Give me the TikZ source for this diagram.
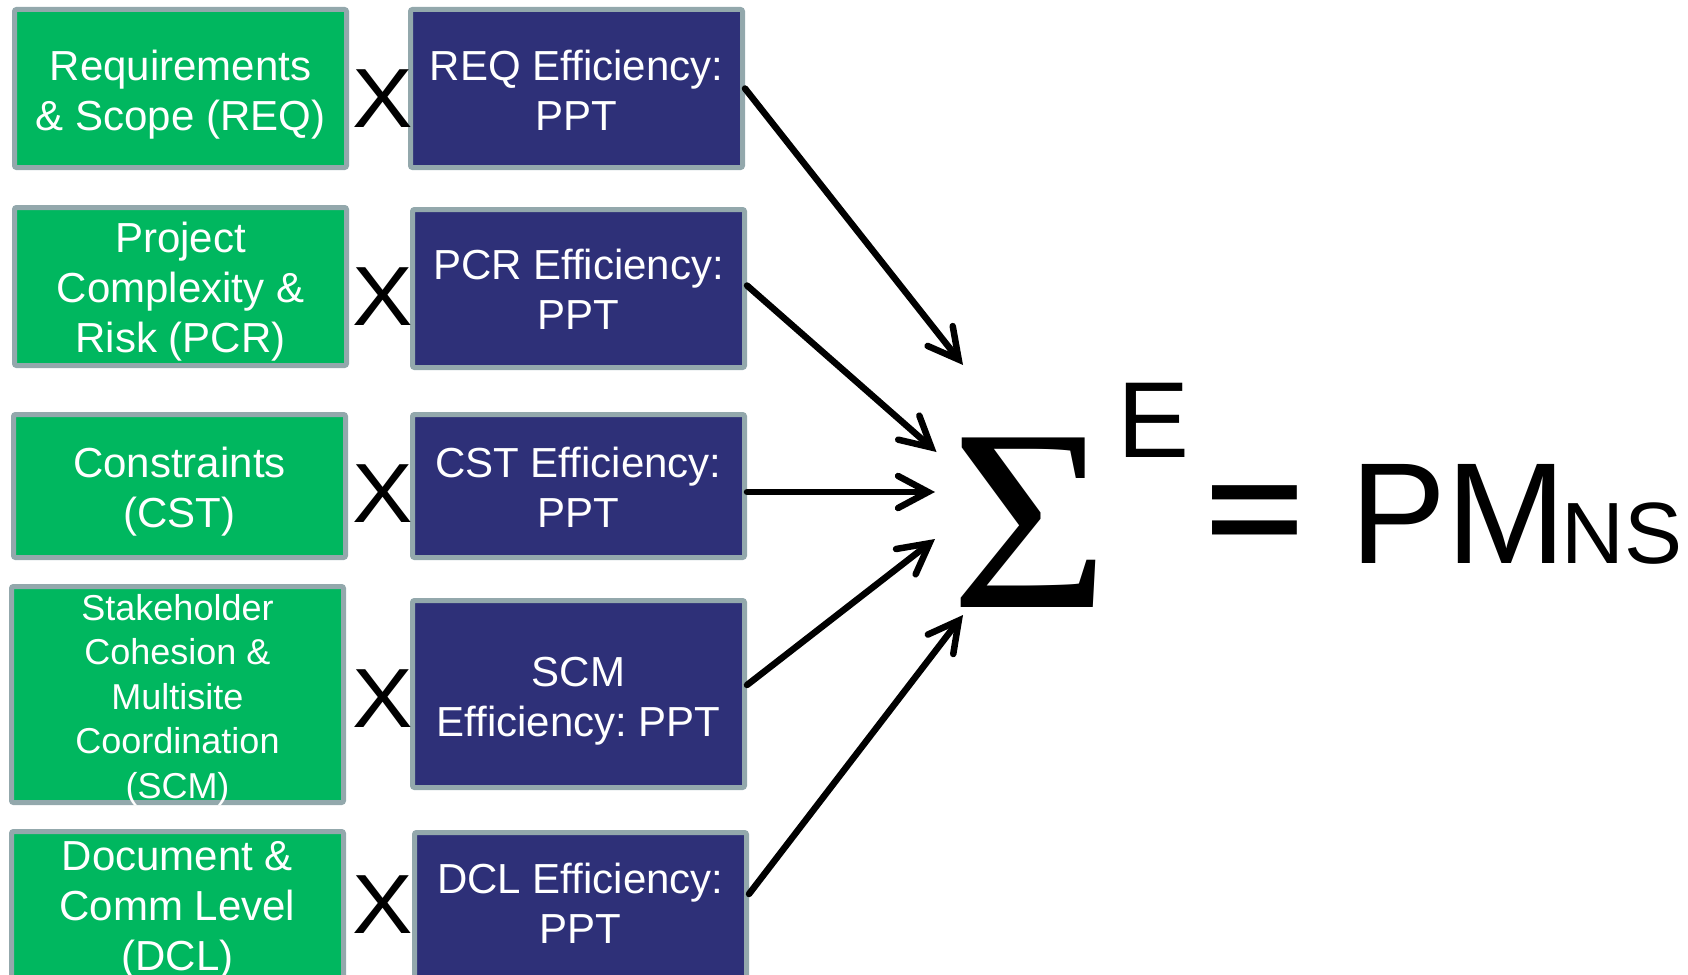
\documentclass[tikz,border=0pt]{standalone}
\usepackage{fontspec}
\setmainfont{Liberation Sans}
\newfontfamily\serifsym{Liberation Serif}
\usetikzlibrary{arrows.meta}
\definecolor{boxgreen}{HTML}{00B75F}
\definecolor{boxnavy}{HTML}{2E3078}
\definecolor{boxrim}{HTML}{93A8AC}

\begin{document}
\frenchspacing
\begin{tikzpicture}[x=1pt,y=-1pt,
  factor/.style={draw=boxrim, line width=5pt, rounded corners=2pt, fill=boxgreen,
    minimum width=332pt, inner sep=0pt},
  eff/.style={factor, fill=boxnavy},
  boxtext/.style={text=white, align=center, inner sep=0pt,
    font=\fontsize{42}{50}\selectfont},
  smalltext/.style={boxtext, font=\fontsize{36}{44.5}\selectfont},
  timessign/.style={inner sep=0pt, font=\fontsize{84}{84}\selectfont},
  flowarrow/.style={line width=6.5pt, line cap=round,
    -{Straight Barb[length=30pt,width=32pt,line cap=round]}},
  eqpart/.style={inner sep=0pt, outer sep=0pt}
]
\useasboundingbox (0,0) rectangle (1688,974);

% factor boxes (left column)
\node[factor, minimum height=158pt] (g1) at (180.5,88.5) {};
\node[factor, minimum height=158pt] (g2) at (180.5,286.5) {};
\node[factor, minimum height=143pt] (g3) at (179.5,486) {};
\node[factor, minimum height=216pt] (g4) at (177.5,694.5) {};
\node[factor, minimum height=146pt] (g5) at (177.5,904.5) {};

\node[boxtext] (g1t) at ([yshift=-6.5pt]g1.center) {Requirements\\\& Scope (REQ)};
\node[boxtext] (g2t) at ([yshift=-5pt]g2.center) {Project\\Complexity \&\\Risk (PCR)};
\node[boxtext] (g3t) at ([yshift=-5.5pt]g3.center) {Constraints\\(CST)};
\node[smalltext] (g4t) at ([yshift=-5.5pt]g4.center)
  {Stakeholder\\Cohesion \&\\Multisite\\Coordination\\(SCM)};
\node[boxtext] (g5t) at ([yshift=-5.5pt]g5.center) {Document \&\\Comm Level\\(DCL)};

% efficiency boxes (right column)
\node[eff, minimum height=158pt] (b1) at (576.5,88.5) {};
\node[eff, minimum height=158pt] (b2) at (578.5,288.5) {};
\node[eff, minimum height=143pt] (b3) at (578.5,486) {};
\node[eff, minimum height=187pt] (b4) at (578.5,694) {};
\node[eff, minimum height=147pt] (b5) at (580.5,906) {};

\node[boxtext] (b1t) at ([yshift=-2.2pt]b1.center) {REQ Efficiency:\\PPT};
\node[boxtext] (b2t) at ([yshift=-1.1pt]b2.center) {PCR Efficiency:\\PPT};
\node[boxtext] (b3t) at ([yshift=-1.3pt]b3.center) {CST Efficiency:\\PPT};
\node[boxtext] (b4t) at ([yshift=-7.5pt]b4.center) {SCM\\Efficiency: PPT};
\node[boxtext] (b5t) at ([yshift=2.3pt]b5.center) {DCL Efficiency:\\PPT};

% multiplication signs
\node[timessign] (x1) at (383,99) {\scalebox{1.08}[1]{X}};
\node[timessign] (x2) at (383,297) {\scalebox{1.08}[1]{X}};
\node[timessign] (x3) at (383,494) {\scalebox{1.08}[1]{X}};
\node[timessign] (x4) at (383,699) {\scalebox{1.08}[1]{X}};
\node[timessign] (x5) at (383,905) {\scalebox{1.08}[1]{X}};

% summation and result
\node[eqpart, anchor=base, font=\serifsym\fontsize{259}{259}\selectfont] (sum) at (1030.3,607)
  {\scalebox{1.055}[1]{Σ}};
\node[eqpart, anchor=base west, font=\fontsize{108}{108}\selectfont] (sup) at (1117,457) {E};
\node[eqpart, anchor=base, font=\bfseries\fontsize{161}{161}\selectfont] (eq) at (1254.5,553)
  {\scalebox{1.05}[0.81]{=}};
\node[eqpart, anchor=base west] (pm) at (1350.5,563)
  {\fontsize{144}{144}\selectfont PM\kern-5pt\fontsize{87}{87}\selectfont NS};

% arrow tips around the summation
\coordinate (t1) at (963,365);
\coordinate (t2) at (936.5,452);
\coordinate (t3) at (935,492);
\coordinate (t4) at (935,539);
\coordinate (t5) at (963,615);

\draw[flowarrow] (b1.east) -- (t1);
\draw[flowarrow] ([yshift=3pt]b2.east) -- (t2);
\draw[flowarrow] ([yshift=-6pt]b3.east) -- (t3);
\draw[flowarrow] ([yshift=9pt]b4.east) -- (t4);
\draw[flowarrow] ([yshift=12pt]b5.east) -- (t5);
\end{tikzpicture}
\end{document}
